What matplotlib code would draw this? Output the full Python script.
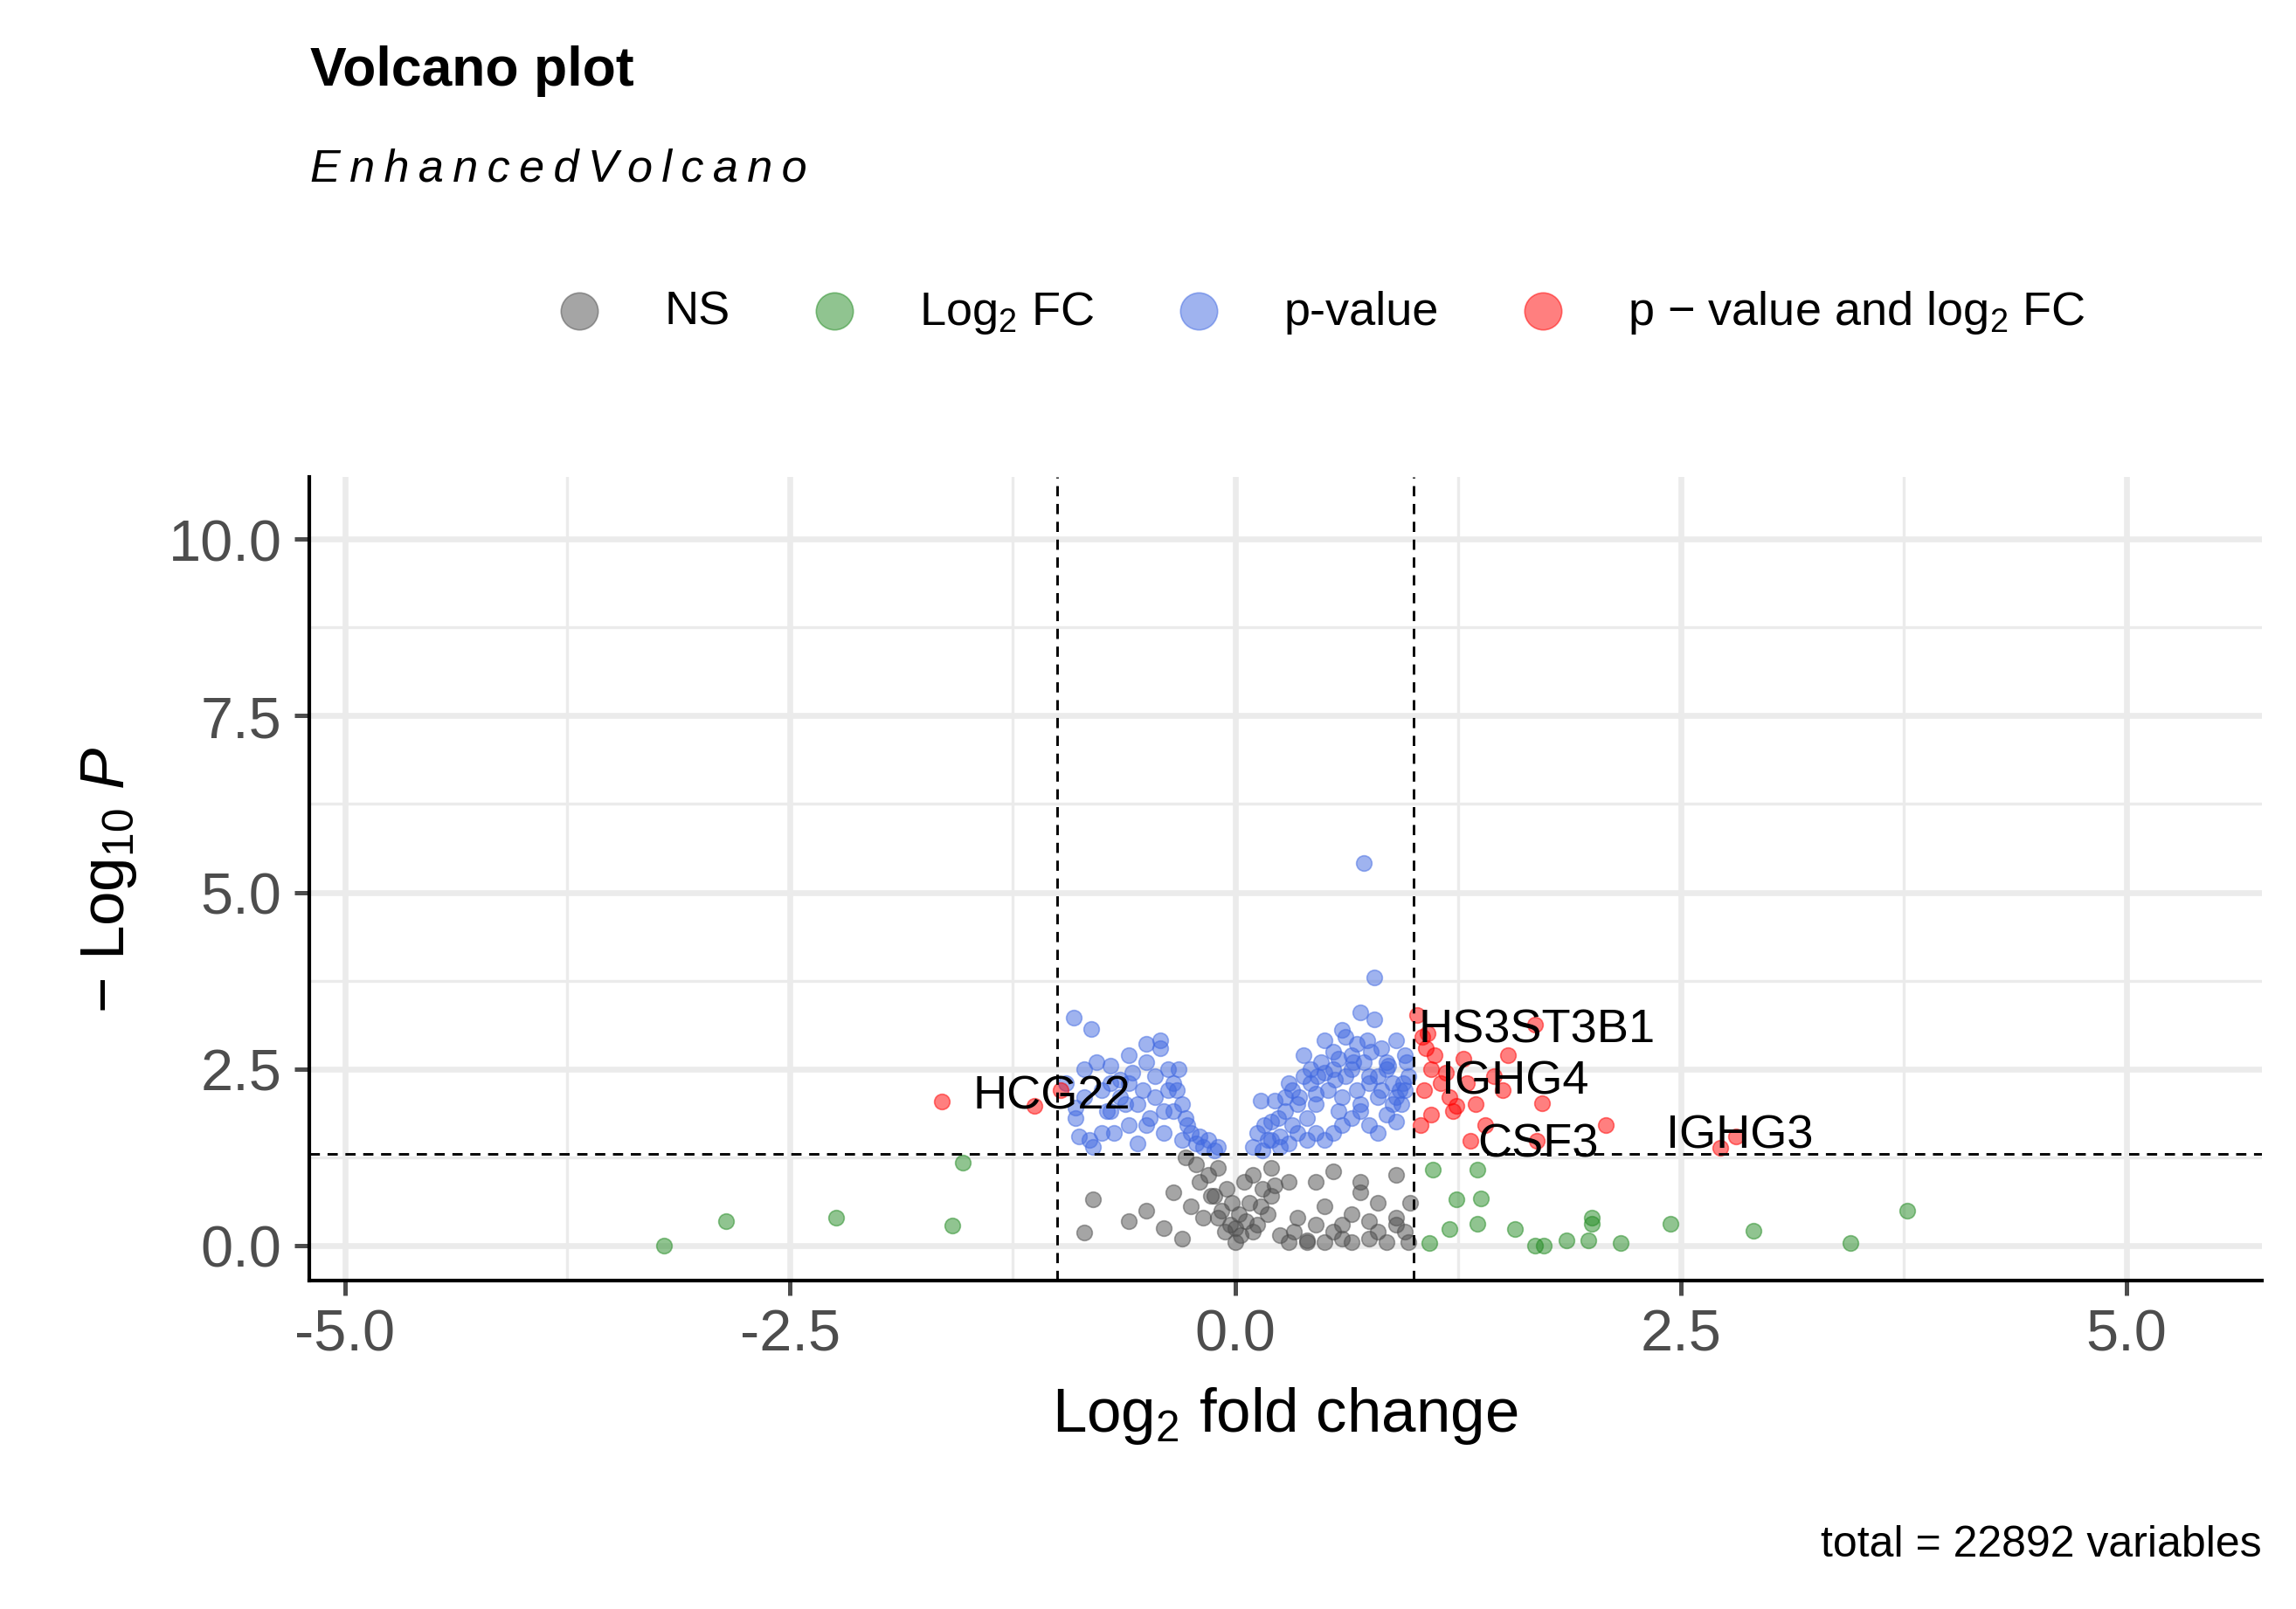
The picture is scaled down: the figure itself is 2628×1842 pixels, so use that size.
import matplotlib.pyplot as plt
from matplotlib.ticker import MultipleLocator
plt.rcParams['font.family'] = ['Liberation Sans', 'DejaVu Sans']
plt.rcParams['mathtext.fontset'] = 'custom'
plt.rcParams['mathtext.rm'] = 'Liberation Sans'
plt.rcParams['mathtext.it'] = 'Liberation Sans:italic'

# ---- data ----
ns_x = [-0.85,-0.8,-0.6,-0.5,-0.4,-0.35,-0.3,-0.25,-0.2,-0.18,-0.15,-0.12,-0.1,-0.08,-0.05,-0.03,0.0,0.02,0.05,0.08,0.1,0.12,0.15,0.18,0.2,0.25,0.3,0.35,0.4,0.45,0.5,0.55,0.6,0.65,0.7,0.75,0.8,0.85,0.9,0.95,0.98,0.3,0.4,0.55,0.6,0.7,0.8,0.9,0.2,0.5,-0.22,-0.28,0.0,0.03,-0.02,0.06,-0.06,0.1,-0.1,0.14,-0.14,0.22,0.33,0.45,0.65,0.75,0.9,0.97]
ns_y = [0.18,0.65,0.35,0.5,0.25,0.75,0.1,0.55,0.9,0.4,1.0,0.7,1.1,0.5,0.8,0.3,0.05,0.45,0.9,0.6,1.0,0.3,0.8,0.45,1.1,0.15,0.05,0.4,0.08,0.3,0.05,0.2,0.1,0.45,0.75,0.35,0.6,0.05,0.4,0.2,0.6,0.9,0.05,1.05,0.3,0.9,0.2,1.0,0.7,0.55,1.15,1.25,0.25,0.15,0.6,0.35,0.2,0.2,0.4,0.55,0.7,0.85,0.2,0.9,0.05,0.1,0.3,0.05]

fc_x = [-3.21,-2.86,-2.24,-1.59,-1.53,1.11,1.36,1.24,1.38,1.2,1.36,1.57,1.68,1.73,1.86,1.98,2.0,2.0,2.16,2.44,2.91,3.45,3.77,1.09]
fc_y = [0.0,0.35,0.4,0.29,1.17,1.08,1.08,0.65,0.67,0.23,0.31,0.23,0.0,0.0,0.08,0.08,0.31,0.4,0.04,0.31,0.21,0.04,0.5,0.04]

p_x = [0.72,0.78,-0.91,-0.81,-0.95,-0.88,-0.9,-0.85,-0.82,-0.78,-0.75,-0.72,-0.7,-0.68,-0.65,-0.62,-0.6,-0.58,-0.55,-0.52,-0.5,-0.48,-0.45,-0.42,-0.4,-0.38,-0.35,-0.32,-0.3,-0.28,-0.25,-0.22,-0.2,-0.18,-0.15,-0.12,-0.1,-0.55,-0.5,-0.45,-0.4,-0.6,-0.65,-0.7,-0.35,-0.3,-0.75,-0.8,-0.85,-0.9,-0.5,-0.42,-0.38,-0.33,-0.27,-0.6,-0.7,
       0.1,0.12,0.15,0.18,0.2,0.22,0.25,0.28,0.3,0.32,0.35,0.38,0.4,0.42,0.45,0.48,0.5,0.52,0.55,0.58,0.6,0.62,0.65,0.68,0.7,0.72,0.75,0.78,0.8,0.82,0.85,0.88,0.9,0.92,0.95,0.97,0.5,0.55,0.6,0.65,0.7,0.75,0.8,0.85,0.9,0.45,0.4,0.35,0.3,0.25,0.2,0.6,0.65,0.7,0.75,0.8,0.85,0.9,0.95,0.55,0.5,0.45,0.68,0.74,0.82,0.88,0.93,0.62,0.58,0.42,0.38,0.32,0.28,0.24,0.16,0.14,0.96,0.94,0.86,0.76,0.66,0.56,0.46,0.36]
p_y = [5.42,3.79,3.23,3.06,2.3,1.55,1.8,2.1,1.5,2.6,2.2,1.9,2.55,1.6,2.35,2.0,1.7,2.45,1.45,2.2,2.85,1.8,2.4,2.9,1.6,2.2,1.9,2.5,1.5,1.8,1.6,1.45,1.55,1.4,1.5,1.35,1.4,2.0,1.7,2.1,1.9,2.7,2.1,2.3,2.3,2.0,1.6,1.4,2.5,1.95,2.6,2.8,2.5,2.2,1.7,2.3,1.9,
       1.4,1.6,1.35,1.5,1.75,2.05,1.55,1.9,2.3,1.7,2.0,2.7,1.8,2.3,2.0,2.6,2.9,2.2,2.5,1.9,3.05,2.4,2.7,2.2,3.3,2.6,2.4,3.2,2.1,2.8,2.5,2.3,2.9,2.2,2.7,2.4,1.5,1.6,1.7,1.8,1.9,1.7,1.6,1.85,1.75,1.6,1.5,1.6,1.45,1.4,1.5,2.1,2.5,2.0,2.3,2.4,2.6,2.1,2.2,2.75,2.45,2.15,2.85,2.9,2.2,2.0,2.0,2.95,2.65,2.5,2.4,2.2,2.1,1.8,1.7,2.05,2.6,2.3,2.55,2.75,2.6,2.35,2.4,2.1]

both_x = [-1.65,-1.13,-0.98,1.02,1.05,1.07,1.08,1.1,1.12,1.06,1.15,1.2,1.28,1.53,1.68,1.72,2.08,2.72,2.81,1.69,1.32,1.24,1.4,1.45,1.3,1.18,1.04,1.1,1.35,1.5,1.22]
both_y = [2.04,1.98,2.2,3.27,2.95,2.8,3.0,2.5,2.7,2.2,2.3,2.1,2.65,2.7,3.13,2.02,1.71,1.38,1.54,1.48,1.48,1.98,1.71,2.4,2.3,2.45,1.7,1.85,2.0,2.2,1.9]

labels = ["HCG22","HS3ST3B1","IGHG4","CSF3","IGHG3"]
label_x = [-1.03,1.69,1.57,1.7,2.83]
label_y = [2.12,3.06,2.33,1.44,1.56]

fig = plt.figure(figsize=(8.76,6.143), dpi=300)
ax = fig.add_axes([0.1346,0.2038,0.8504,0.4992])
ax.set_xlim(-5.2,5.76); ax.set_ylim(-0.5,10.875)
ax.xaxis.set_major_locator(MultipleLocator(2.5)); ax.xaxis.set_minor_locator(MultipleLocator(1.25))
ax.yaxis.set_major_locator(MultipleLocator(2.5)); ax.yaxis.set_minor_locator(MultipleLocator(1.25))
ax.grid(which='major', color='#ebebeb', lw=1.6)
ax.grid(which='minor', color='#ebebeb', lw=0.8)
ax.set_axisbelow(True)
for s in ['top','right']: ax.spines[s].set_visible(False)
for s in ['left','bottom']: ax.spines[s].set_linewidth(1.0)
ax.tick_params(labelsize=16, colors='#4d4d4d', length=4, width=1.2)
ax.tick_params(which='minor', length=0)
ax.xaxis.set_major_formatter(lambda v,p: f"{v:.1f}")
ax.yaxis.set_major_formatter(lambda v,p: f"{v:.1f}")

ms = 18
ax.scatter(ns_x, ns_y, s=ms, c='#4d4d4d', alpha=0.5, lw=0.4, edgecolors='#4d4d4d', label='NS')
ax.scatter(fc_x, fc_y, s=ms, c='forestgreen', alpha=0.5, lw=0.4, label='Log$_2$ FC')
ax.scatter(p_x, p_y, s=ms, c='royalblue', alpha=0.5, lw=0.4, label='p-value')
ax.scatter(both_x, both_y, s=ms, c='red', alpha=0.5, lw=0.4, label='p − value and log$_2$ FC')

for v in (-1, 1): ax.axvline(v, color='black', ls=(0,(4,3)), lw=0.7)
ax.axhline(1.30103, color='black', ls=(0,(4,3)), lw=0.7)

for t,x,y in zip(labels,label_x,label_y):
    ax.text(x, y, t, fontsize=13, ha='center', va='center')

ax.set_xlabel('Log$_2$ fold change', fontsize=17, labelpad=6)
ax.set_ylabel('$-$ Log$_{10}$ $\\it{P}$', fontsize=17, labelpad=8)

h,l = ax.get_legend_handles_labels()
fig.legend(h,l, loc='center', bbox_to_anchor=(0.57,0.806), ncol=4, frameon=False,
           fontsize=13, markerscale=2.4, handletextpad=0.8, columnspacing=1.2)

fig.text(0.135,0.956,'Volcano plot', fontsize=15, fontweight='bold', va='center')
fig.text(0.135,0.895,'\u2009'.join('EnhancedVolcano'), fontsize=12.5, style='italic', va='center',
         family=['DejaVu Sans'] if False else ['Liberation Sans','DejaVu Sans'])
fig.text(0.985,0.04,'total = 22892 variables', fontsize=12, ha='right', va='center')

fig.savefig('out.png', dpi=300)
